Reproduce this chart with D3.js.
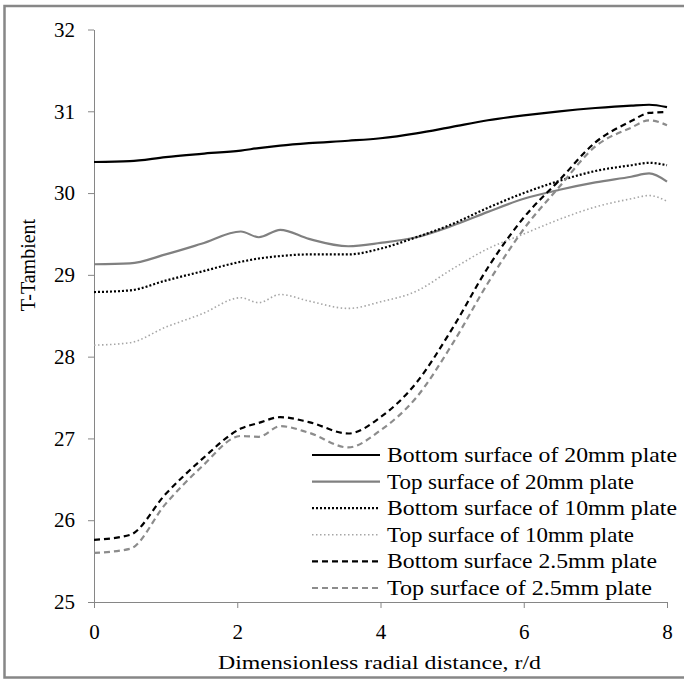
<!DOCTYPE html>
<html>
<head>
<meta charset="utf-8">
<script src="https://cdn.jsdelivr.net/npm/d3@7"></script>
<style>
  body { margin: 0; background: #fff; }
  svg { display: block; font-family: "Liberation Serif", "Times New Roman", serif; }
</style>
</head>
<body>
<div id="chart"></div>
<script>
// radial positions (r/d) shared by every series
let rValues = [0, 0.5, 1, 1.5, 2.05, 2.3, 2.6, 3, 3.55, 4, 4.5, 5, 5.5, 6, 6.5, 7, 7.5, 7.75, 8];

let bottom20 = [30.38, 30.39, 30.44, 30.48, 30.52, 30.55, 30.58, 30.61, 30.64, 30.67, 30.73, 30.81, 30.89, 30.95, 31.0, 31.04, 31.07, 31.08, 31.05];
let top20    = [29.13, 29.14, 29.25, 29.38, 29.53, 29.46, 29.55, 29.44, 29.35, 29.39, 29.46, 29.6, 29.77, 29.93, 30.04, 30.13, 30.2, 30.24, 30.14];
let bottom10 = [28.79, 28.81, 28.93, 29.04, 29.16, 29.2, 29.23, 29.25, 29.25, 29.32, 29.46, 29.62, 29.82, 30.0, 30.15, 30.27, 30.34, 30.37, 30.34];
let top10    = [28.14, 28.17, 28.36, 28.52, 28.72, 28.66, 28.76, 28.68, 28.59, 28.67, 28.8, 29.07, 29.32, 29.5, 29.68, 29.83, 29.93, 29.97, 29.9];
let bottom25 = [25.76, 25.82, 26.32, 26.74, 27.12, 27.19, 27.26, 27.2, 27.06, 27.26, 27.68, 28.34, 29.09, 29.7, 30.16, 30.62, 30.88, 30.98, 30.99];
let top25    = [25.6, 25.65, 26.2, 26.65, 27.03, 27.02, 27.15, 27.07, 26.89, 27.1, 27.5, 28.15, 28.9, 29.56, 30.08, 30.57, 30.8, 30.89, 30.83];

let seriesNames = [
    "Bottom surface of 20mm plate",
    "Top surface of 20mm plate",
    "Bottom surface of 10mm plate",
    "Top surface of 10mm plate",
    "Bottom surface 2.5mm plate",
    "Top surface of 2.5mm plate"
];
let seriesValues = [bottom20, top20, bottom10, top10, bottom25, top25];

let xTicks = [0, 2, 4, 6, 8];
let yTicks = [25, 26, 27, 28, 29, 30, 31, 32];

// estilos de cada serie
let styles = [
    {color: "#000000", width: 2.2, dash: null},
    {color: "#808080", width: 2.2, dash: null},
    {color: "#000000", width: 2.2, dash: "2,2"},
    {color: "#a6a6a6", width: 1.6, dash: "1.5,2.5"},
    {color: "#000000", width: 2.2, dash: "6,4"},
    {color: "#8c8c8c", width: 2.2, dash: "6,4"}
];
let legendWidths = [290, 247, 290, 247, 270, 265];

let W = 684, H = 679;
let margin = {left: 94, right: 17, top: 29.5, bottom: 77};

let x = d3.scaleLinear().domain([0, 8]).range([margin.left, W - margin.right]);
let y = d3.scaleLinear().domain([25, 32]).range([H - margin.bottom, margin.top]);

let svg = d3.select("#chart").append("svg")
    .attr("width", W)
    .attr("height", H);

// marco exterior
svg.append("rect")
    .attr("x", 4.5).attr("y", 6)
    .attr("width", 700).attr("height", 671.5)
    .attr("fill", "none")
    .attr("stroke", "#878787")
    .attr("stroke-width", 2.5);

// ejes
let xAxis = svg.append("g")
    .attr("transform", "translate(0," + y(25) + ")")
    .call(d3.axisBottom(x).tickValues(xTicks).tickFormat(d3.format("d"))
        .tickSize(6).tickPadding(16).tickSizeOuter(0));
let yAxis = svg.append("g")
    .attr("transform", "translate(" + x(0) + ",0)")
    .call(d3.axisLeft(y).tickValues(yTicks).tickFormat(d3.format("d"))
        .tickSize(6).tickPadding(13).tickSizeOuter(0));

[xAxis, yAxis].forEach(function(a) {
    a.attr("font-family", null).attr("font-size", null);
    a.select(".domain").attr("stroke", "#868686");
    a.selectAll(".tick line").attr("stroke", "#868686");
    a.selectAll(".tick text")
        .attr("fill", "#000")
        .style("font-size", "21px");
});

// lineas
let line = d3.line()
    .x(function(d, i) { return x(rValues[i]); })
    .y(function(d) { return y(d); })
    .curve(d3.curveMonotoneX);

let lineGroup = svg.append("g");
seriesValues.forEach(function(vals, i) {
    lineGroup.append("path")
        .attr("d", line(vals))
        .attr("fill", "none")
        .attr("stroke", styles[i].color)
        .attr("stroke-width", styles[i].width)
        .attr("stroke-dasharray", styles[i].dash)
        .attr("stroke-linejoin", "round");
});

// leyenda
let legend = svg.append("g");
seriesNames.forEach(function(name, i) {
    let ly = 455 + i * 26.6;
    legend.append("line")
        .attr("x1", 312).attr("x2", 380)
        .attr("y1", ly).attr("y2", ly)
        .attr("stroke", styles[i].color)
        .attr("stroke-width", styles[i].width)
        .attr("stroke-dasharray", styles[i].dash);
    legend.append("text")
        .attr("x", 387)
        .attr("y", ly + 7)
        .attr("textLength", legendWidths[i])
        .attr("lengthAdjust", "spacingAndGlyphs")
        .style("font-size", "21px")
        .text(name);
});

// titulos de ejes
svg.append("text")
    .attr("x", 218)
    .attr("y", 669)
    .attr("textLength", 323)
    .attr("lengthAdjust", "spacingAndGlyphs")
    .style("font-size", "19px")
    .text("Dimensionless radial distance, r/d");

svg.append("text")
    .attr("transform", "translate(35,265) rotate(-90)")
    .attr("text-anchor", "middle")
    .style("font-size", "20px")
    .text("T-Tambient");
</script>
</body>
</html>
